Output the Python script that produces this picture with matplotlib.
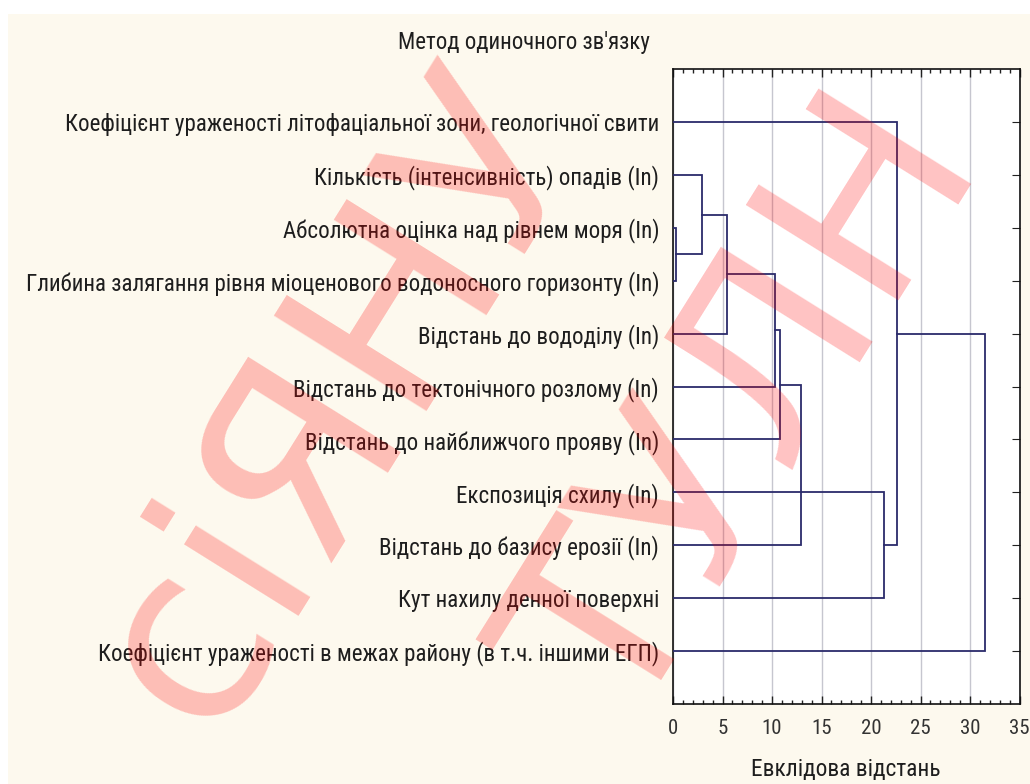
import matplotlib
matplotlib.use("Agg")
import matplotlib.pyplot as plt
from matplotlib import font_manager as fm
from matplotlib.ticker import MultipleLocator
from matplotlib.patches import Rectangle

# ---------------- data ----------------
leaf_labels = [
    "Коефіцієнт ураженості літофаціальної зони, геологічної свити",
    "Кількість (інтенсивність) опадів (In)",
    "Абсолютна оцінка над рівнем моря (In)",
    "Глибина залягання рівня міоценового водоносного горизонту (In)",
    "Відстань до вододілу (In)",
    "Відстань до тектонічного розлому (In)",
    "Відстань до найближчого прояву (In)",
    "Експозиція схилу (In)",
    "Відстань до базису ерозії (In)",
    "Кут нахилу денної поверхні",
    "Коефіцієнт ураженості в межах району (в т.ч. іншими ЕГП)",
]
# merges (scipy-like numbering: leaves 0..10, new nodes 11..)
link_children = [(2, 3), (1, 11), (12, 4), (13, 5), (14, 6), (15, 8), (7, 9), (0, 17), (18, 10)]
link_heights = [0.35, 2.9, 5.5, 10.3, 10.85, 12.9, 21.3, 22.6, 31.5]
x_ticks = [0, 5, 10, 15, 20, 25, 30, 35]

title = "Метод одиночного зв'язку"
xlabel = "Евклідова відстань"
watermark_lines = ["сіЯНУ", "ТУЛН"]

# ---------------- fonts ----------------
avail = {f.name for f in fm.fontManager.ttflist}
font = "DejaVu Sans"
for cand in ["Liberation Sans Narrow", "DejaVu Sans Condensed", "Roboto Condensed", "Liberation Sans"]:
    if cand in avail:
        font = cand
        break
plt.rcParams["font.family"] = [font, "DejaVu Sans"]

W, H = 1030, 784
fig = plt.figure(figsize=(W / 100, H / 100), dpi=100)
fig.patch.set_facecolor("white")
fig.add_artist(Rectangle((8 / W, 0), 1, 1 - 14 / H, transform=fig.transFigure,
                         facecolor="#fdf9ee", edgecolor="none", zorder=-10))

left, right, top, bottom = 673, 1019.5, 69, 704
ax = fig.add_axes([left / W, 1 - bottom / H, (right - left) / W, (bottom - top) / H])
ax.set_facecolor("white")

line_color = "#2b2b6b"
n = len(leaf_labels)
pos = {i: (0.0, float(i)) for i in range(n)}
for k, ((a, b), h) in enumerate(zip(link_children, link_heights)):
    xa, ya = pos[a]
    xb, yb = pos[b]
    ax.plot([xa, h, h, xb], [ya, ya, yb, yb], color=line_color, lw=1.3,
            solid_joinstyle="miter", zorder=3)
    pos[n + k] = (h, (ya + yb) / 2)

ax.set_xlim(0, 35)
ax.set_ylim(n, -1)
ax.set_xticks(x_ticks)
ax.set_xticklabels([str(t) for t in x_ticks])
ax.xaxis.set_minor_locator(MultipleLocator(1))
ax.grid(axis="x", which="major", color="#c6c6cf", lw=1.0, zorder=1)
ax.set_axisbelow(True)
ax.tick_params(axis="x", which="both", direction="in", top=True, bottom=True,
               color="#222222", labelsize=15, labelcolor="#333333", pad=11)
ax.tick_params(axis="x", which="major", length=6, width=1)
ax.tick_params(axis="x", which="minor", length=3, width=1)

ax.set_yticks(range(n))
ax.set_yticklabels(leaf_labels, fontsize=16.6, color="#1e1e1e")
ax.tick_params(axis="y", left=False, right=True, direction="in", length=6,
               color="#222222", pad=10)
for s in ax.spines.values():
    s.set_color("#111111")
    s.set_linewidth(1.2)

fig.text(524 / W, 1 - 42 / H, title, ha="center", va="center", fontsize=16.5, color="#1e1e1e")
ax.set_xlabel(xlabel, fontsize=16.8, color="#1e1e1e", labelpad=14)

# watermark
wm_pos = [(340 / W, 1 - 400 / H), (750 / W, 1 - 412 / H)]
for s, (x, y) in zip(watermark_lines, wm_pos):
    fig.text(x, y, s, rotation=58, rotation_mode="anchor", ha="center", va="center",
             fontsize=178, color="red", alpha=0.24,
             family="DejaVu Sans", zorder=20)

fig.savefig("out.png", dpi=100, facecolor=fig.get_facecolor())
